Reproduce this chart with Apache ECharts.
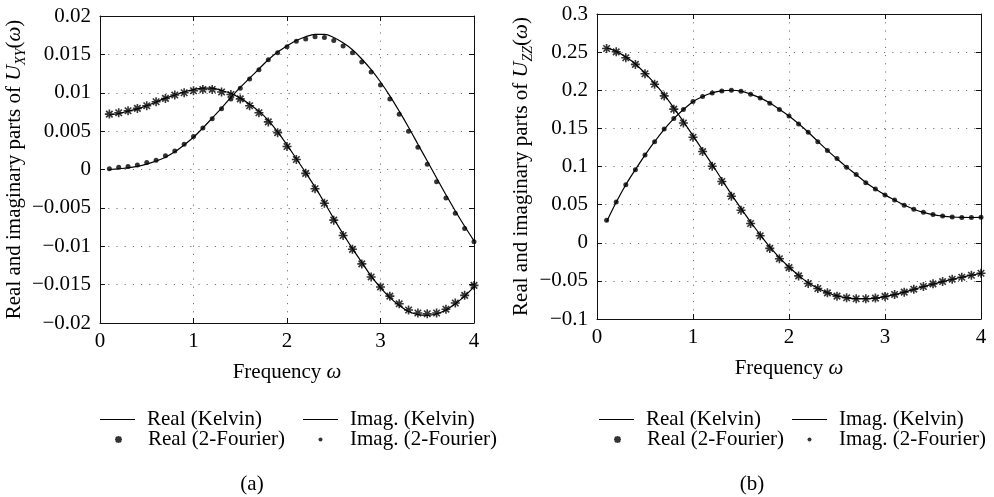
<!DOCTYPE html>
<html>
<head>
<meta charset="utf-8">
<script src="https://cdn.jsdelivr.net/npm/echarts@6/dist/echarts.min.js"></script>
<style>html,body{margin:0;padding:0;background:#fff}#c{width:994px;height:497px}</style>
</head>
<body>
<div id="c"></div>
<script>
// ---- data ----
const freq = [0.1,0.2,0.3,0.4,0.5,0.6,0.7,0.8,0.9,1.0,1.1,1.2,1.3,1.4,1.5,1.6,1.7,1.8,1.9,2.0,2.1,2.2,2.3,2.4,2.5,2.6,2.7,2.8,2.9,3.0,3.1,3.2,3.3,3.4,3.5,3.6,3.7,3.8,3.9,4.0];

// (a) U_XY
const realXY_kelvin = [0.0071,0.0073,0.0076,0.0079,0.0083,0.0088,0.0093,0.0097,0.0101,0.0104,0.0106,0.0106,0.0103,0.0099,0.0093,0.0085,0.0076,0.0064,0.0049,0.0032,0.0014,-0.0004,-0.0023,-0.0043,-0.0064,-0.0084,-0.0103,-0.0121,-0.0139,-0.0154,-0.0167,-0.0177,-0.0185,-0.0189,-0.0190,-0.0188,-0.0183,-0.0175,-0.0165,-0.0153];
const realXY_fourier = [0.00722,0.00739,0.00765,0.00796,0.0083,0.00883,0.00926,0.0097,0.0100,0.01026,0.01043,0.01043,0.0101,0.00978,0.0092,0.0083,0.0074,0.0062,0.0048,0.0030,0.0013,-0.0005,-0.0025,-0.0044,-0.0066,-0.0086,-0.0104,-0.0123,-0.0140,-0.0153,-0.0165,-0.0175,-0.0183,-0.0187,-0.0188,-0.0187,-0.0182,-0.0174,-0.0164,-0.0151];
const imagXY_kelvin = [0.0000,0.0001,0.0002,0.0004,0.0007,0.0011,0.0016,0.0023,0.0032,0.0042,0.0054,0.0067,0.0080,0.0094,0.0107,0.0119,0.0131,0.0143,0.0153,0.0161,0.0168,0.0173,0.0176,0.0176,0.0172,0.0165,0.0156,0.0144,0.0130,0.0114,0.0096,0.0076,0.0055,0.0033,0.0011,-0.0011,-0.0033,-0.0054,-0.0074,-0.0093];
const imagXY_fourier = [0.0001,0.0003,0.0004,0.0006,0.0009,0.0012,0.0018,0.0024,0.0033,0.0043,0.0054,0.0066,0.0079,0.0092,0.0106,0.0118,0.0130,0.0143,0.0152,0.0160,0.0167,0.0170,0.0173,0.0172,0.0168,0.0161,0.0152,0.0140,0.0127,0.0110,0.0092,0.0072,0.0050,0.0029,0.0007,-0.0016,-0.0037,-0.0057,-0.0077,-0.0094];

// (b) U_ZZ
const realZZ_kelvin = [0.2555,0.2510,0.2435,0.2345,0.2225,0.2090,0.1940,0.1770,0.1590,0.1405,0.1215,0.1025,0.0830,0.0635,0.0450,0.0272,0.0105,-0.0055,-0.0195,-0.0318,-0.0428,-0.0525,-0.0597,-0.0655,-0.0697,-0.0722,-0.0733,-0.0733,-0.0725,-0.0706,-0.0680,-0.0648,-0.0612,-0.0576,-0.0542,-0.0510,-0.0480,-0.0452,-0.0426,-0.0402];
const realZZ_fourier = [0.2548,0.2504,0.2426,0.2339,0.2217,0.2078,0.1926,0.1752,0.1570,0.1383,0.1196,0.1004,0.0804,0.0609,0.0426,0.0252,0.0091,-0.0074,-0.0209,-0.0326,-0.0435,-0.0535,-0.0600,-0.0657,-0.0700,-0.0722,-0.0735,-0.0735,-0.0726,-0.0704,-0.0678,-0.0648,-0.0609,-0.0574,-0.0539,-0.0509,-0.0478,-0.0452,-0.0426,-0.0400];
const imagZZ_kelvin = [0.0275,0.0530,0.0760,0.0960,0.1150,0.1325,0.1488,0.1628,0.1748,0.1850,0.1918,0.1965,0.1992,0.2000,0.1988,0.1950,0.1900,0.1832,0.1750,0.1662,0.1560,0.1450,0.1330,0.1212,0.1100,0.0992,0.0893,0.0790,0.0705,0.0628,0.0560,0.0494,0.0440,0.0398,0.0368,0.0350,0.0338,0.0332,0.0331,0.0333];
const imagZZ_fourier = [0.0296,0.0535,0.0761,0.0957,0.1152,0.1326,0.1491,0.1630,0.1748,0.1852,0.1917,0.1965,0.1991,0.2000,0.1987,0.1948,0.1900,0.1830,0.1748,0.1661,0.1557,0.1448,0.1326,0.1209,0.1104,0.0991,0.0896,0.0787,0.0704,0.0626,0.0561,0.0491,0.0439,0.0400,0.0370,0.0352,0.0339,0.0330,0.0330,0.0335];

const xTicks = [0,1,2,3,4];
const names = ['Real (Kelvin)','Imag. (Kelvin)','Real (2-Fourier)','Imag. (2-Fourier)'];
const captions = ['(a)','(b)'];

// ---- styling ----
const FONT = 'Liberation Serif';
const FS = 21;
const pair = (ys) => freq.map((x,i)=>[x, ys[i]]);
const STAR = 'path://M0,-1L0,1M-1,0L1,0M-0.72,-0.72L0.72,0.72M-0.72,0.72L0.72,-0.72';
const LINE_ICON = 'path://M0,0H100V3H0Z';
const fmt = (v) => { const s = String(+(+v).toFixed(4)); return s.replace('-', '\u2212'); };

const grids = [
  {left:100, right:520, top:16, bottom:174},
  {left:597, right:13, top:14, bottom:178}
];

function axesFor(gi, ymin, ymax, yint, sub){
  const gridLine = {show:true, lineStyle:{color:'#777', width:1, type:[1.2,7]}};
  const axisLine = {show:true, onZero:false, lineStyle:{color:'#111', width:1}};
  const tick = {show:true, inside:true, length:5, lineStyle:{color:'#111'}};
  const xs = [
    {gridIndex:gi, type:'value', min:0, max:4, interval:1, position:'bottom',
     axisLine, axisTick:tick, splitLine:gridLine,
     axisLabel:{color:'#000', fontFamily:FONT, fontSize:FS, margin:8, formatter:fmt},
     name:'{a|Frequency }{w|\u03c9}', nameLocation:'middle', nameGap:39,
     nameTextStyle:{color:'#000', rich:{a:{fontFamily:FONT,fontSize:FS,color:'#000'}, w:{fontFamily:FONT,fontSize:FS,fontStyle:'italic',color:'#000'}}}},
    {gridIndex:gi, type:'value', min:0, max:4, interval:1, position:'top',
     axisLine, axisTick:tick, splitLine:{show:false}, axisLabel:{show:false}}
  ];
  const ys = [
    {gridIndex:gi, type:'value', min:ymin, max:ymax, interval:yint, position:'left',
     axisLine, axisTick:tick, splitLine:gridLine,
     axisLabel:{color:'#000', fontFamily:FONT, fontSize:FS, margin:9, formatter:fmt},
     name:'{a|Real and imaginary parts of }{u|U}{s|'+sub+'}{a|(}{w|\u03c9}{a|)}',
     nameLocation:'middle', nameRotate:90, nameGap: gi===0 ? 64 : 61,
     nameTextStyle:{color:'#000', rich:{
       a:{fontFamily:FONT,fontSize:FS,color:'#000',lineHeight:28},
       u:{fontFamily:FONT,fontSize:FS+1,fontStyle:'italic',color:'#000',lineHeight:28},
       s:{fontFamily:FONT,fontSize:14,fontStyle:'italic',color:'#000',lineHeight:26,verticalAlign:'bottom'},
       w:{fontFamily:FONT,fontSize:FS,fontStyle:'italic',color:'#000',lineHeight:28}}}},
    {gridIndex:gi, type:'value', min:ymin, max:ymax, interval:yint, position:'right',
     axisLine, axisTick:tick, splitLine:{show:false}, axisLabel:{show:false}}
  ];
  return {xs, ys};
}

const a0 = axesFor(0, -0.02, 0.02, 0.005, 'XY');
const a1 = axesFor(1, -0.1, 0.3, 0.05, 'ZZ');

function seriesFor(gi, rk, ik, rf, imf){
  const xi = gi*2, yi = gi*2;
  const lineS = (name, ys) => ({type:'line', name, xAxisIndex:xi, yAxisIndex:yi, data:pair(ys),
     symbol:'none', smooth:0.35, lineStyle:{color:'#000', width:1.2}, itemStyle:{color:'#000'}, z:3, silent:true});
  return [
    lineS(names[0], rk),
    lineS(names[1], ik),
    {type:'scatter', name:names[2], xAxisIndex:xi, yAxisIndex:yi, data:pair(rf), symbol:STAR, symbolSize:9,
     itemStyle:{color:'rgba(0,0,0,0)', borderColor:'#000', borderWidth:1.6}, z:2, silent:true},
    {type:'scatter', name:names[3], xAxisIndex:xi, yAxisIndex:yi, data:pair(imf), symbol:'circle', symbolSize:5,
     itemStyle:{color:'#000'}, z:2, silent:true}
  ];
}

// legend box is positioned by its visible content; symbol icons sit centred in a 35px slot
function legendItem(col, top, name, icon, h, isSymbol){
  const off = isSymbol ? (35 - h) / 2 : 0;
  return {orient:'vertical', left: col + off, top, padding:0, itemWidth:35, itemHeight:h, itemGap:0, selectedMode:false,
    data:[{name, icon}],
    textStyle:{fontFamily:FONT, fontSize:FS, color:'#000', lineHeight:20, padding:[0,0,0,7]}};
}
const ROW1 = 409, ROW2 = 429;
const legends = [];
[[100,303],[599,792]].forEach(([c1,c2])=>{
  legends.push(legendItem(c1, ROW1, names[0], LINE_ICON, 6, false));
  legends.push(legendItem(c1, ROW2, names[2], STAR, 7, true));
  legends.push(legendItem(c2, ROW1, names[1], LINE_ICON, 6, false));
  legends.push(legendItem(c2, ROW2, names[3], 'circle', 4, true));
});

const option = {
  animation:false,
  backgroundColor:'#fff',
  grid: grids,
  xAxis: [...a0.xs, ...a1.xs],
  yAxis: [...a0.ys, ...a1.ys],
  legend: legends,
  graphic: [
    {type:'text', x:252, y:484, style:{text:captions[0], font:FS+'px "'+FONT+'"', fill:'#000', align:'center', verticalAlign:'middle'}},
    {type:'text', x:752, y:484, style:{text:captions[1], font:FS+'px "'+FONT+'"', fill:'#000', align:'center', verticalAlign:'middle'}}
  ],
  series: [
    ...seriesFor(0, realXY_kelvin, imagXY_kelvin, realXY_fourier, imagXY_fourier),
    ...seriesFor(1, realZZ_kelvin, imagZZ_kelvin, realZZ_fourier, imagZZ_fourier)
  ]
};

const chart = echarts.init(document.getElementById('c'), null, {renderer:'canvas'});
chart.setOption(option);
</script>
</body>
</html>
